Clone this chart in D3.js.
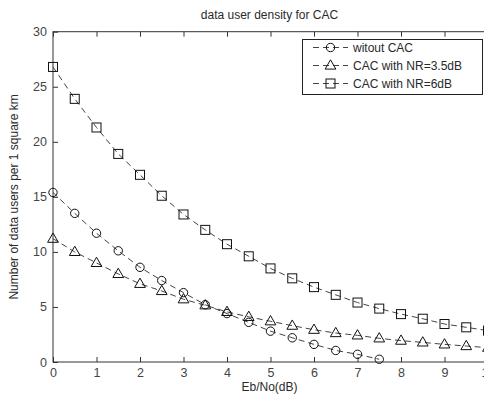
<!DOCTYPE html>
<html>
<head>
<meta charset="utf-8">
<script src="https://cdn.jsdelivr.net/npm/d3@7"></script>
<style>
  body { margin: 0; background: #fff; }
  svg { display: block; font-family: "Liberation Sans", Arial, sans-serif; }
</style>
</head>
<body>
<div id="plotarea"></div>
<script>
// Eb/No values (dB)
var ebno = [0, 0.5, 1, 1.5, 2, 2.5, 3, 3.5, 4, 4.5, 5, 5.5, 6, 6.5, 7, 7.5, 8, 8.5, 9, 9.5, 10];
// data user density
var withoutCAC = [15.4, 13.5, 11.7, 10.1, 8.6, 7.4, 6.3, 5.2, 4.4, 3.6, 2.8, 2.2, 1.6, 1.05, 0.7, 0.25];
var cacNR35 = [11.2, 10.0, 9.0, 8.0, 7.1, 6.45, 5.7, 5.15, 4.55, 4.1, 3.7, 3.3, 2.93, 2.63, 2.42, 2.15, 1.94, 1.78, 1.6, 1.45, 1.3];
var cacNR6 = [26.8, 23.9, 21.3, 18.9, 17.0, 15.1, 13.4, 12.0, 10.7, 9.6, 8.5, 7.6, 6.8, 6.1, 5.4, 4.85, 4.35, 3.93, 3.45, 3.15, 2.85];
var seriesNames = ["witout CAC", "CAC with NR=3.5dB", "CAC with NR=6dB"];
var seriesShapes = ["circle", "triangle", "square"];
var xTicks = [0, 1, 2, 3, 4, 5, 6, 7, 8, 9, 10];
var yTicks = [0, 5, 10, 15, 20, 25, 30];

var width = 484, height = 394;
var plotLeft = 53, plotTop = 31.7, plotRight = 488, plotBottom = 362;
var textColor = "#2a2a2a";

var svg = d3.select("#plotarea").append("svg")
    .attr("width", width)
    .attr("height", height);

var x = d3.scaleLinear().domain([0, 10]).range([plotLeft, plotRight]);
var y = d3.scaleLinear().domain([0, 30]).range([plotBottom, plotTop]);

// axes box
svg.append("rect")
    .attr("x", plotLeft).attr("y", plotTop)
    .attr("width", plotRight - plotLeft).attr("height", plotBottom - plotTop)
    .attr("fill", "none").attr("stroke", "#333").attr("stroke-width", 1);

svg.append("g")
    .attr("transform", "translate(0," + plotBottom + ")")
    .call(d3.axisBottom(x).tickValues(xTicks).tickSizeInner(-5).tickSizeOuter(0).tickPadding(6));
svg.append("g")
    .attr("transform", "translate(0," + plotTop + ")")
    .call(d3.axisTop(x).tickValues(xTicks).tickSizeInner(-5).tickSizeOuter(0).tickFormat(""));
svg.append("g")
    .attr("transform", "translate(" + plotLeft + ",0)")
    .call(d3.axisLeft(y).tickValues(yTicks).tickSizeInner(-5).tickSizeOuter(0).tickPadding(6));

svg.selectAll(".domain").remove();
svg.selectAll(".tick line").attr("stroke", "#333");
svg.selectAll(".tick text")
    .attr("fill", "#444")
    .attr("font-size", 12.5)
    .attr("font-family", "Liberation Sans, Arial, sans-serif");

// title and labels
svg.append("text")
    .attr("x", (plotLeft + plotRight) / 2 - 1).attr("y", 19)
    .attr("text-anchor", "middle")
    .attr("font-size", 12).attr("fill", textColor)
    .text("data user density for CAC");

svg.append("text")
    .attr("x", (plotLeft + plotRight) / 2 - 1).attr("y", 391)
    .attr("text-anchor", "middle")
    .attr("font-size", 12).attr("fill", textColor)
    .text("Eb/No(dB)");

svg.append("text")
    .attr("transform", "translate(18," + ((plotTop + plotBottom) / 2) + ") rotate(-90)")
    .attr("text-anchor", "middle")
    .attr("font-size", 12).attr("fill", textColor)
    .text("Number of data users per 1 square km");

// markers
function drawMarker(g, shape, cx, cy) {
    if (shape == "circle") {
        g.append("circle").attr("cx", cx).attr("cy", cy).attr("r", 4.2);
    } else if (shape == "triangle") {
        g.append("path").attr("d", d3.symbol().type(d3.symbolTriangle).size(50)())
            .attr("transform", "translate(" + cx + "," + (cy + 0.5) + ")");
    } else {
        g.append("rect").attr("x", cx - 4.5).attr("y", cy - 4.5).attr("width", 9).attr("height", 9);
    }
}

var allSeries = [withoutCAC, cacNR35, cacNR6];
var line = d3.line()
    .x(function(d, i) { return x(ebno[i]); })
    .y(function(d) { return y(d); });

allSeries.forEach(function(values, k) {
    svg.append("path")
        .datum(values)
        .attr("d", line)
        .attr("fill", "none")
        .attr("stroke", "#444")
        .attr("stroke-width", 1)
        .attr("stroke-dasharray", "6,4");
    var g = svg.append("g")
        .attr("fill", "none")
        .attr("stroke", "#111")
        .attr("stroke-width", 1);
    values.forEach(function(v, i) {
        drawMarker(g, seriesShapes[k], x(ebno[i]), y(v));
    });
});

// legend
var legend = svg.append("g");
legend.append("rect")
    .attr("x", 302.5).attr("y", 39.5)
    .attr("width", 180).attr("height", 55)
    .attr("fill", "#fff").attr("stroke", "#222").attr("stroke-width", 1);

seriesNames.forEach(function(name, k) {
    var ly = 47.5 + k * 18;
    legend.append("line")
        .attr("x1", 313).attr("x2", 348)
        .attr("y1", ly).attr("y2", ly)
        .attr("stroke", "#444").attr("stroke-width", 1)
        .attr("stroke-dasharray", "6,4");
    var g = legend.append("g")
        .attr("fill", "none").attr("stroke", "#111").attr("stroke-width", 1);
    drawMarker(g, seriesShapes[k], 330.5, ly);
    legend.append("text")
        .attr("x", 353).attr("y", ly + 4.5)
        .attr("font-size", 12).attr("fill", textColor)
        .text(name);
});
</script>
</body>
</html>
